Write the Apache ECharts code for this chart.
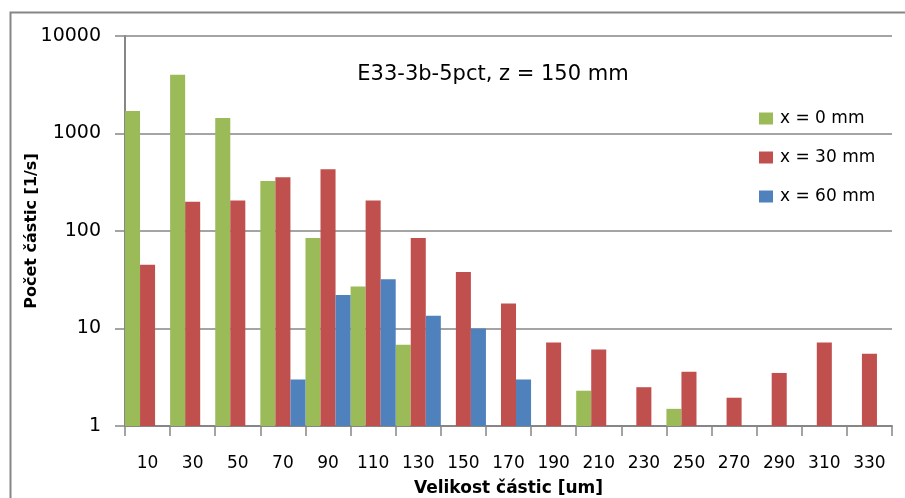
<!DOCTYPE html>
<html>
<head>
<meta charset="utf-8">
<script src="https://cdn.jsdelivr.net/npm/echarts@6/dist/echarts.min.js"></script>
<style>
  html, body { margin: 0; padding: 0; background: #fff; }
  #chart { width: 905px; height: 498px; }
</style>
</head>
<body>
<div id="chart"></div>
<script>
var categories = ['10', '30', '50', '70', '90', '110', '130', '150', '170', '190', '210', '230', '250', '270', '290', '310', '330'];
var x0 = [1700, 4000, 1440, 325, 85, 27, 6.8, null, null, null, 2.3, null, 1.5, null, null, null, null];
var x30 = [45, 200, 205, 355, 430, 205, 85, 38, 18, 7.2, 6.1, 2.5, 3.6, 1.95, 3.5, 7.2, 5.5];
var x60 = [null, null, null, 3.0, 22, 32, 13.5, 10, 3.0, null, null, null, null, null, null, null, null];

var font = '"DejaVu Sans", Verdana, sans-serif';
var grey = '#868686';

var chart = echarts.init(document.getElementById('chart'));

chart.setOption({
    animation: false,
    textStyle: { fontFamily: font, color: '#000' },
    // chart frame: only top and left edges are visible in the picture
    graphic: [{
        type: 'polyline',
        shape: { points: [[10.5, 498], [10.5, 12.5], [905, 12.5]] },
        style: { fill: 'none', stroke: grey, lineWidth: 2 }
    }],
    title: {
        text: 'E33-3b-5pct, z = 150 mm',
        left: 488, top: 59, textAlign: 'center',
        textStyle: { fontSize: 21, fontWeight: 'normal', fontFamily: font, color: '#000' }
    },
    legend: {
        orient: 'vertical',
        left: 754, top: 105,
        itemWidth: 14, itemHeight: 12, itemGap: 22,
        icon: 'rect',
        textStyle: { fontSize: 17, fontFamily: font, color: '#000', padding: [0, 0, 0, 2] },
        data: ['x = 0 mm', 'x = 30 mm', 'x = 60 mm']
    },
    grid: { left: 125, right: 13, top: 36, bottom: 72, containLabel: false, outerBoundsMode: 'none' },
    xAxis: {
        type: 'category',
        data: categories,
        name: 'Velikost částic [um]',
        nameLocation: 'middle',
        nameGap: 54,
        nameMoveOverlap: false,
        nameTextStyle: { fontSize: 17, fontWeight: 'bold', fontFamily: font },
        axisLine: { lineStyle: { color: grey, width: 2 } },
        axisTick: { show: true, length: 10, lineStyle: { color: grey, width: 1.5 } },
        axisLabel: { fontSize: 17, margin: 29, color: '#000', interval: 0 }
    },
    yAxis: {
        type: 'log',
        logBase: 10,
        min: 1, max: 10000,
        name: 'Počet částic [1/s]',
        nameLocation: 'middle',
        nameGap: 85,
        nameMoveOverlap: false,
        nameTextStyle: { fontSize: 16, fontWeight: 'bold', fontFamily: font },
        axisLine: { show: true, lineStyle: { color: grey, width: 2 } },
        axisTick: { show: true, length: 10, lineStyle: { color: grey, width: 1.5 } },
        axisLabel: { fontSize: 19, margin: 24, color: '#000', formatter: function (v) { return String(v); } },
        splitLine: { show: true, lineStyle: { color: grey, width: 1.5 } }
    },
    series: [
        { name: 'x = 0 mm', type: 'bar', data: x0, barGap: '0%', barCategoryGap: '0%', itemStyle: { color: '#9BBB59' } },
        { name: 'x = 30 mm', type: 'bar', data: x30, barGap: '0%', barCategoryGap: '0%', itemStyle: { color: '#C0504D' } },
        { name: 'x = 60 mm', type: 'bar', data: x60, barGap: '0%', barCategoryGap: '0%', itemStyle: { color: '#4F81BD' } }
    ]
});
</script>
</body>
</html>
